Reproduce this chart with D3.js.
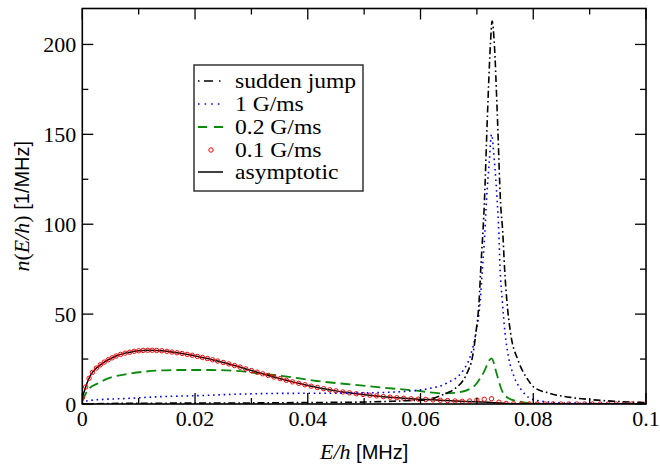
<!DOCTYPE html>
<html><head><meta charset="utf-8">
<script src="https://cdn.jsdelivr.net/npm/d3@7"></script>
<style>body{margin:0;background:#fff}svg{display:block}
.serif{font-family:"Liberation Serif","Times New Roman",Tinos,serif}
.sans{font-family:"Liberation Sans",Arial,Arimo,sans-serif}
</style>
</head><body>
<svg id="c" width="660" height="466"></svg>
<script>
// ---- data ----
const xTicks = [0, 0.02, 0.04, 0.06, 0.08, 0.1];
const xTickLabels = ["0", "0.02", "0.04", "0.06", "0.08", "0.1"];
const xMinor = [0.01, 0.03, 0.05, 0.07, 0.09];
const yTicks = [0, 50, 100, 150, 200];
const yTickLabels = ["0", "50", "100", "150", "200"];
const yMinor = [25, 75, 125, 175];

const seriesNames = ["sudden jump", "1 G/ms", "0.2 G/ms", "0.1 G/ms", "asymptotic"];

// sudden jump
const suddenX = [0, 0.005, 0.01, 0.02, 0.03, 0.04, 0.05, 0.055, 0.058, 0.061, 0.0638, 0.0652, 0.0665, 0.0676, 0.0685, 0.0691, 0.0698, 0.0704, 0.0707, 0.0713, 0.0719, 0.0724, 0.0727, 0.0731, 0.0736, 0.0742, 0.0746, 0.0749, 0.0753, 0.0760, 0.0773, 0.0791, 0.0800, 0.0830, 0.0870, 0.0900, 0.0950, 0.1000];
const suddenY = [0, 0.3, 0.4, 0.5, 0.6, 0.8, 1.1, 1.5, 1.9, 2.3, 5.0, 6.8, 9.5, 13.3, 19, 24.4, 39, 57.8, 76, 110, 163, 200, 213, 200, 163, 112, 95, 76, 58, 39, 24.4, 13.3, 9.6, 5.9, 3.5, 2.5, 1.4, 0.8];

// 1 G/ms
const g1X = [0, 0.0002, 0.002, 0.008, 0.014, 0.02, 0.029, 0.035, 0.045, 0.052, 0.0581, 0.0617, 0.0646, 0.0676, 0.0688, 0.0698, 0.0706, 0.0710, 0.0714, 0.0717, 0.0722, 0.0726, 0.0731, 0.0736, 0.0739, 0.0741, 0.0745, 0.0750, 0.0756, 0.0766, 0.0779, 0.0803, 0.085, 0.09, 0.1];
const g1Y = [0, 1.3, 2.2, 3.1, 4.1, 4.6, 5.6, 5.9, 6.0, 6.3, 7.2, 8.7, 11.5, 18.9, 26.3, 39.3, 57.8, 76.3, 94.8, 113, 135, 150, 135, 113, 94.8, 76.3, 57.8, 39.3, 26.3, 15.2, 7.8, 2.2, 0.6, 0.3, 0.1];

// 0.2 G/ms
const g02X = [0, 0.001, 0.0028, 0.0051, 0.0081, 0.0111, 0.017, 0.023, 0.0288, 0.0297, 0.0357, 0.0416, 0.0475, 0.0534, 0.0593, 0.064, 0.0664, 0.0694, 0.0711, 0.0726, 0.0735, 0.0744, 0.0756, 0.0776, 0.080, 0.085, 0.1];
const g02Y = [1.5, 7.8, 11.5, 14.8, 16.7, 18.0, 18.9, 18.9, 18.0, 17.6, 15.5, 12.8, 10.9, 9.1, 7.4, 5.9, 6.3, 9.6, 17, 25.4, 17, 7.8, 3.2, 1.3, 0.3, 0, 0];

// 0.1 G/ms (circles) and asymptotic share the same abscissae
const slowX = [0, 0.0006, 0.0012, 0.0018, 0.0025, 0.0032, 0.0039, 0.0046, 0.0053, 0.0060, 0.0068, 0.0076, 0.0084, 0.0092, 0.0100, 0.0108, 0.0116, 0.0124, 0.0132, 0.0141, 0.0150, 0.0159, 0.0168, 0.0177, 0.0186, 0.0195, 0.0204, 0.0213, 0.0222, 0.0231, 0.0240, 0.0250, 0.0260, 0.0270, 0.0280, 0.0290, 0.0300, 0.0310, 0.0320, 0.0330, 0.0340, 0.0351, 0.0362, 0.0373, 0.0384, 0.0395, 0.0406, 0.0417, 0.0428, 0.0439, 0.0450, 0.0462, 0.0474, 0.0486, 0.0498, 0.0510, 0.0522, 0.0534, 0.0546, 0.0558, 0.0570, 0.0583, 0.0596, 0.0609, 0.0622, 0.0635, 0.0648, 0.0661, 0.0674, 0.0687, 0.0700, 0.0713, 0.0726, 0.0739, 0.0752, 0.0765, 0.0779, 0.0793, 0.0807, 0.0821, 0.0835, 0.0849, 0.0863, 0.0877, 0.0891, 0.0905, 0.0919, 0.0933, 0.0947, 0.0961, 0.0975, 0.0989, 0.1000];
const slow01Y = [3.5, 9.5, 14.3, 17.6, 20.0, 21.8, 23.3, 24.6, 25.7, 26.7, 27.6, 28.3, 28.8, 29.3, 29.6, 29.8, 29.9, 29.9, 29.8, 29.6, 29.3, 28.9, 28.5, 28.1, 27.6, 27.1, 26.5, 25.9, 25.3, 24.6, 23.9, 23.1, 22.3, 21.4, 20.5, 19.5, 18.6, 17.7, 16.8, 15.9, 15.0, 14.1, 13.2, 12.3, 11.5, 10.7, 9.9, 9.2, 8.5, 7.9, 7.3, 6.7, 6.2, 5.7, 5.3, 4.9, 4.5, 4.1, 3.8, 3.5, 3.2, 2.9, 2.7, 2.5, 2.3, 2.1, 1.9, 1.7, 1.5, 1.7, 2.2, 2.6, 2.9, 1.0, 0.3, 0.1, 0, 0, 0, 0, 0, 0, 0, 0, 0, 0, 0, 0, 0, 0, 0, 0, 0];
const asympY = [3.5, 9.5, 14.3, 17.6, 20.0, 21.8, 23.3, 24.6, 25.7, 26.7, 27.6, 28.3, 28.8, 29.3, 29.6, 29.8, 29.9, 29.9, 29.8, 29.6, 29.3, 28.9, 28.5, 28.1, 27.6, 27.1, 26.5, 25.9, 25.3, 24.6, 23.9, 23.1, 22.3, 21.4, 20.5, 19.5, 18.6, 17.7, 16.8, 15.9, 15.0, 14.1, 13.2, 12.3, 11.5, 10.7, 9.9, 9.2, 8.5, 7.9, 7.3, 6.7, 6.2, 5.7, 5.3, 4.9, 4.5, 4.1, 3.8, 3.5, 3.2, 2.9, 2.7, 2.5, 2.3, 2.1, 1.9, 1.7, 1.5, 1.4, 1.2, 1.1, 0.9, 0.6, 0.3, 0.1, 0, 0, 0, 0, 0, 0, 0, 0, 0, 0, 0, 0, 0, 0, 0, 0, 0];

// ---- drawing ----
const svg = d3.select("#c");
const L = 82.3, R = 646, T = 8.5, B = 404;
const x = d3.scaleLinear().domain([0, 0.1]).range([L, R]);
const y = d3.scaleLinear().domain([0, 220]).range([B, T]);

svg.append("defs").append("clipPath").attr("id", "clip")
  .append("rect").attr("x", L).attr("y", T).attr("width", R - L).attr("height", B - T);

const plot = svg.append("g").attr("clip-path", "url(#clip)");
const zip = (xs, ys) => xs.map((v, i) => [v, ys[i]]);
const line = d3.line().x(d => x(d[0])).y(d => y(d[1])).curve(d3.curveMonotoneX);

plot.append("path").datum(zip(g02X, g02Y)).attr("d", line)
  .attr("fill", "none").attr("stroke", "#0a8a0a").attr("stroke-width", 1.8).attr("stroke-dasharray", "10,5");
plot.append("path").datum(zip(slowX, asympY)).attr("d", line)
  .attr("fill", "none").attr("stroke", "#000").attr("stroke-width", 1.5);
plot.selectAll("circle.s").data(zip(slowX, slow01Y)).join("circle").attr("class", "s")
  .attr("cx", d => x(d[0])).attr("cy", d => y(d[1])).attr("r", 2.2)
  .attr("fill", "none").attr("stroke", "#ff0000").attr("stroke-width", 1);
plot.append("path").datum(zip(g1X, g1Y)).attr("d", line)
  .attr("fill", "none").attr("stroke", "#0000ff").attr("stroke-width", 1.6).attr("stroke-dasharray", "1.6,3.7");
plot.append("path").datum(zip(suddenX, suddenY)).attr("d", line)
  .attr("fill", "none").attr("stroke", "#000").attr("stroke-width", 1.6).attr("stroke-dasharray", "7,3,1.6,3");

// frame
svg.append("rect").attr("x", L).attr("y", T).attr("width", R - L).attr("height", B - T)
  .attr("fill", "none").attr("stroke", "#000").attr("stroke-width", 1.6);

// ticks
const tk = svg.append("g").attr("stroke", "#000").attr("stroke-width", 1.3);
const major = 11, minor = 6;
xTicks.forEach(v => {
  tk.append("line").attr("x1", x(v)).attr("x2", x(v)).attr("y1", B).attr("y2", B - major);
  tk.append("line").attr("x1", x(v)).attr("x2", x(v)).attr("y1", T).attr("y2", T + major);
});
xMinor.forEach(v => {
  tk.append("line").attr("x1", x(v)).attr("x2", x(v)).attr("y1", B).attr("y2", B - minor);
  tk.append("line").attr("x1", x(v)).attr("x2", x(v)).attr("y1", T).attr("y2", T + minor);
});
yTicks.forEach(v => {
  tk.append("line").attr("x1", L).attr("x2", L + major).attr("y1", y(v)).attr("y2", y(v));
  tk.append("line").attr("x1", R).attr("x2", R - major).attr("y1", y(v)).attr("y2", y(v));
});
yMinor.forEach(v => {
  tk.append("line").attr("x1", L).attr("x2", L + minor).attr("y1", y(v)).attr("y2", y(v));
  tk.append("line").attr("x1", R).attr("x2", R - minor).attr("y1", y(v)).attr("y2", y(v));
});

// tick labels
svg.append("g").selectAll("text").data(xTicks).join("text").attr("class", "serif")
  .attr("x", d => x(d)).attr("y", 426).attr("text-anchor", "middle")
  .style("font-size", "22px").text((d, i) => xTickLabels[i]);
svg.append("g").selectAll("text").data(yTicks).join("text").attr("class", "serif")
  .attr("x", L - 6).attr("y", d => y(d) + 7.5).attr("text-anchor", "end")
  .style("font-size", "22px").text((d, i) => yTickLabels[i]);

// axis titles
const xt = svg.append("text").attr("x", (L + R) / 2).attr("y", 459).attr("text-anchor", "middle").style("font-size", "20px");
xt.append("tspan").attr("class", "serif").style("font-style", "italic").style("font-size", "22px").text("E/h");
xt.append("tspan").attr("class", "sans").text(" [MHz]");

const yt = svg.append("text").attr("transform", `translate(29,${(T + B) / 2}) rotate(-90)`)
  .attr("text-anchor", "middle").style("font-size", "20px");
yt.append("tspan").attr("class", "serif").style("font-style", "italic").style("font-size", "22px").text("n");
yt.append("tspan").attr("class", "serif").style("font-size", "22px").text("(");
yt.append("tspan").attr("class", "serif").style("font-style", "italic").style("font-size", "22px").text("E/h");
yt.append("tspan").attr("class", "serif").style("font-size", "22px").text(")");
yt.append("tspan").attr("class", "sans").text(" [1/MHz]");

// legend
const lg = svg.append("g");
lg.append("rect").attr("x", 194).attr("y", 65).attr("width", 169).attr("height", 126)
  .attr("fill", "#fff").attr("stroke", "#333").attr("stroke-width", 1.5);
const rowBase = [88, 111, 134, 157, 179];
seriesNames.forEach((n, i) => {
  lg.append("text").attr("class", "serif")
    .attr("transform", `translate(235,${rowBase[i]}) scale(1.15,1)`)
    .style("font-size", "20.5px").text(n);
});
const ly = i => rowBase[i] - 7;
lg.append("line").attr("x1", 198).attr("x2", 223).attr("y1", ly(0)).attr("y2", ly(0))
  .attr("stroke", "#000").attr("stroke-width", 1.6).attr("stroke-dasharray", "1.5,4.5,9,6,1.5,10");
lg.append("line").attr("x1", 198).attr("x2", 223).attr("y1", ly(1)).attr("y2", ly(1))
  .attr("stroke", "#0000ff").attr("stroke-width", 1.6).attr("stroke-dasharray", "1.6,5");
lg.append("line").attr("x1", 198).attr("x2", 223).attr("y1", ly(2)).attr("y2", ly(2))
  .attr("stroke", "#0a8a0a").attr("stroke-width", 1.8).attr("stroke-dasharray", "9,7,9");
lg.append("circle").attr("cx", 211).attr("cy", ly(3)).attr("r", 2.2)
  .attr("fill", "none").attr("stroke", "#ff0000").attr("stroke-width", 1);
lg.append("line").attr("x1", 198).attr("x2", 223).attr("y1", ly(4)).attr("y2", ly(4))
  .attr("stroke", "#000").attr("stroke-width", 1.5);
</script>
</body></html>
